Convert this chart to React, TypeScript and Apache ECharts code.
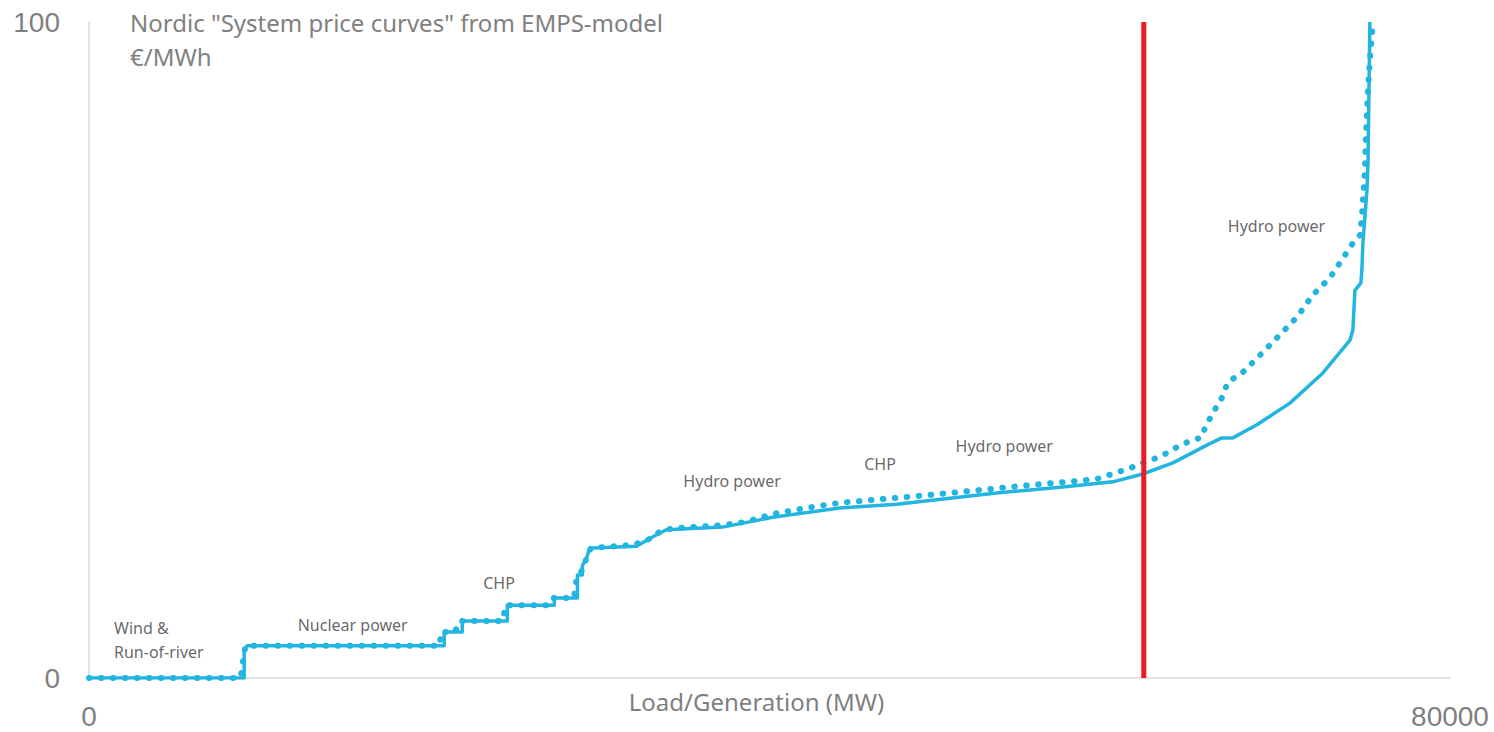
import React, { useEffect, useRef } from "react";
import * as echarts from "echarts";

// Solid curve (Load/Generation MW, €/MWh)
const solidX = [0, 9120, 9120, 9290, 20880, 20880, 21940, 21940, 24590, 24590, 27350, 27350, 28710, 28710, 29000, 29000, 29290, 29410, 29590, 32180, 33120, 33940, 37240, 38820, 40180, 44120, 47470, 53350, 57240, 60180, 61940, 63710, 65710, 66590, 67240, 68650, 70590, 72530, 74120, 74290, 74410, 74760, 74820, 74880, 75000, 75120, 75180, 75290];
const solidY = [0, 0, 4.3, 4.9, 4.9, 7.0, 7.0, 8.7, 8.7, 11.1, 11.1, 12.2, 12.2, 15.7, 15.7, 17.1, 18.6, 19.7, 19.8, 20.1, 21.5, 22.6, 23.0, 23.8, 24.5, 25.9, 26.5, 28.2, 29.1, 29.9, 31.1, 32.8, 35.5, 36.6, 36.6, 38.6, 41.9, 46.5, 51.5, 53.0, 59.1, 60.2, 62.2, 66.3, 70.3, 74.4, 78.5, 100];

// Dotted curve
const dottedX = [0, 8900, 9000, 9100, 9200, 20600, 20700, 21500, 21800, 24300, 24500, 26900, 27200, 28500, 28650, 29000, 29290, 29500, 31500, 32600, 33200, 33600, 34300, 37200, 38600, 40200, 42100, 44100, 49400, 55300, 59200, 61200, 61940, 62940, 64290, 65410, 65590, 66060, 66590, 66940, 67820, 68940, 70000, 71000, 71940, 72940, 73710, 74290, 74710, 74820, 75000, 75060, 75180, 75290, 75470];
const dottedY = [0, 0, 1.5, 3.5, 4.9, 4.9, 7.0, 7.0, 8.7, 8.7, 11.1, 11.1, 12.2, 12.2, 15.0, 16.5, 18.6, 19.8, 20.2, 20.7, 21.6, 22.4, 22.8, 23.3, 23.8, 25.0, 25.9, 26.7, 27.9, 29.4, 30.3, 32.0, 32.8, 33.7, 35.7, 36.7, 38.1, 40.4, 42.7, 45.1, 46.6, 49.5, 52.3, 55.0, 58.4, 61.0, 64.0, 66.3, 67.5, 70.3, 77.4, 82.8, 89.6, 94.2, 100];

const demandMW = 62000;

const annotationText = ["Wind &\nRun-of-river", "Nuclear power", "CHP", "Hydro power", "CHP", "Hydro power", "Hydro power"];
const annotationX = [1470, 15500, 24100, 37800, 46500, 53800, 69800];
const annotationY = [5.8, 8.1, 14.5, 30.0, 32.6, 35.4, 68.9];

const xTicks = [0, 80000];
const yTicks = [0, 100];

const BLUE = "#22b5e0";

export default function App() {
  const ref = useRef<HTMLDivElement>(null);
  useEffect(() => {
    document.body.style.margin = "0";
    if (!ref.current) return;
    const chart = echarts.init(ref.current, null, { renderer: "svg" });
    const font = "'Noto Sans', 'Open Sans', sans-serif";
    const tickFont = "'Liberation Sans', Arial, sans-serif";
    chart.setOption({
      animation: false,
      backgroundColor: "#ffffff",
      title: {
        text: 'Nordic "System price curves" from EMPS-model\n€/MWh',
        left: 130,
        top: 5,
        padding: 0,
        textStyle: { fontFamily: font, fontSize: 24, fontWeight: "normal", color: "#808080", lineHeight: 34 },
      },
      grid: { left: 89, right: 44, top: 22, bottom: 54, containLabel: false, outerBoundsMode: "none" },
      xAxis: {
        type: "value",
        min: xTicks[0],
        max: xTicks[1],
        interval: xTicks[1] - xTicks[0],
        name: "Load/Generation (MW)",
        nameLocation: "middle",
        nameGap: 11,
        nameMoveOverlap: false,
        nameTextStyle: { fontFamily: font, fontSize: 24, color: "#7f7f7f", padding: [0, 26, 0, 0], verticalAlign: "top" },
        axisLine: { show: true, lineStyle: { color: "#d9d9d9", width: 1.5 } },
        axisTick: { show: false },
        splitLine: { show: false },
        axisLabel: { fontFamily: tickFont, fontSize: 28, lineHeight: 28, color: "#7f7f7f", margin: 24, formatter: (v: number) => String(v) },
      },
      yAxis: {
        type: "value",
        min: yTicks[0],
        max: yTicks[1],
        interval: yTicks[1] - yTicks[0],
        axisLine: { show: true, lineStyle: { color: "#d9d9d9", width: 1.5 } },
        axisTick: { show: false },
        splitLine: { show: false },
        axisLabel: { fontFamily: tickFont, fontSize: 28, color: "#7f7f7f", margin: 29, formatter: (v: number) => String(v) },
      },
      series: [
        {
          type: "line",
          data: solidX.map((x, i) => [x, solidY[i]]),
          showSymbol: false,
          symbol: "none",
          lineStyle: { color: BLUE, width: 3.5, join: "round" },
          z: 2,
        },
        {
          type: "line",
          data: dottedX.map((x, i) => [x, dottedY[i]]),
          showSymbol: false,
          symbol: "none",
          lineStyle: { color: BLUE, width: 6, type: [0.5, 11.5], cap: "round" },
          z: 3,
        },
        {
          type: "line",
          data: [[demandMW, yTicks[0]], [demandMW, yTicks[1]]],
          showSymbol: false,
          symbol: "none",
          lineStyle: { color: "#ed1c24", width: 5 },
          z: 4,
        },
        {
          type: "scatter",
          symbolSize: 0,
          data: annotationText.map((t, i) => ({
            value: [annotationX[i], annotationY[i]],
            name: t,
            label: i === 0 ? { align: "left" } : undefined,
          })),
          label: {
            show: true,
            position: "inside",
            formatter: (p: any) => p.name,
            fontFamily: font,
            fontSize: 16,
            lineHeight: 24,
            color: "#404040",
            align: "center",
          },
          z: 5,
        },
      ],
    });
    return () => chart.dispose();
  }, []);
  return <div ref={ref} style={{ width: 1494, height: 732 }} />;
}
